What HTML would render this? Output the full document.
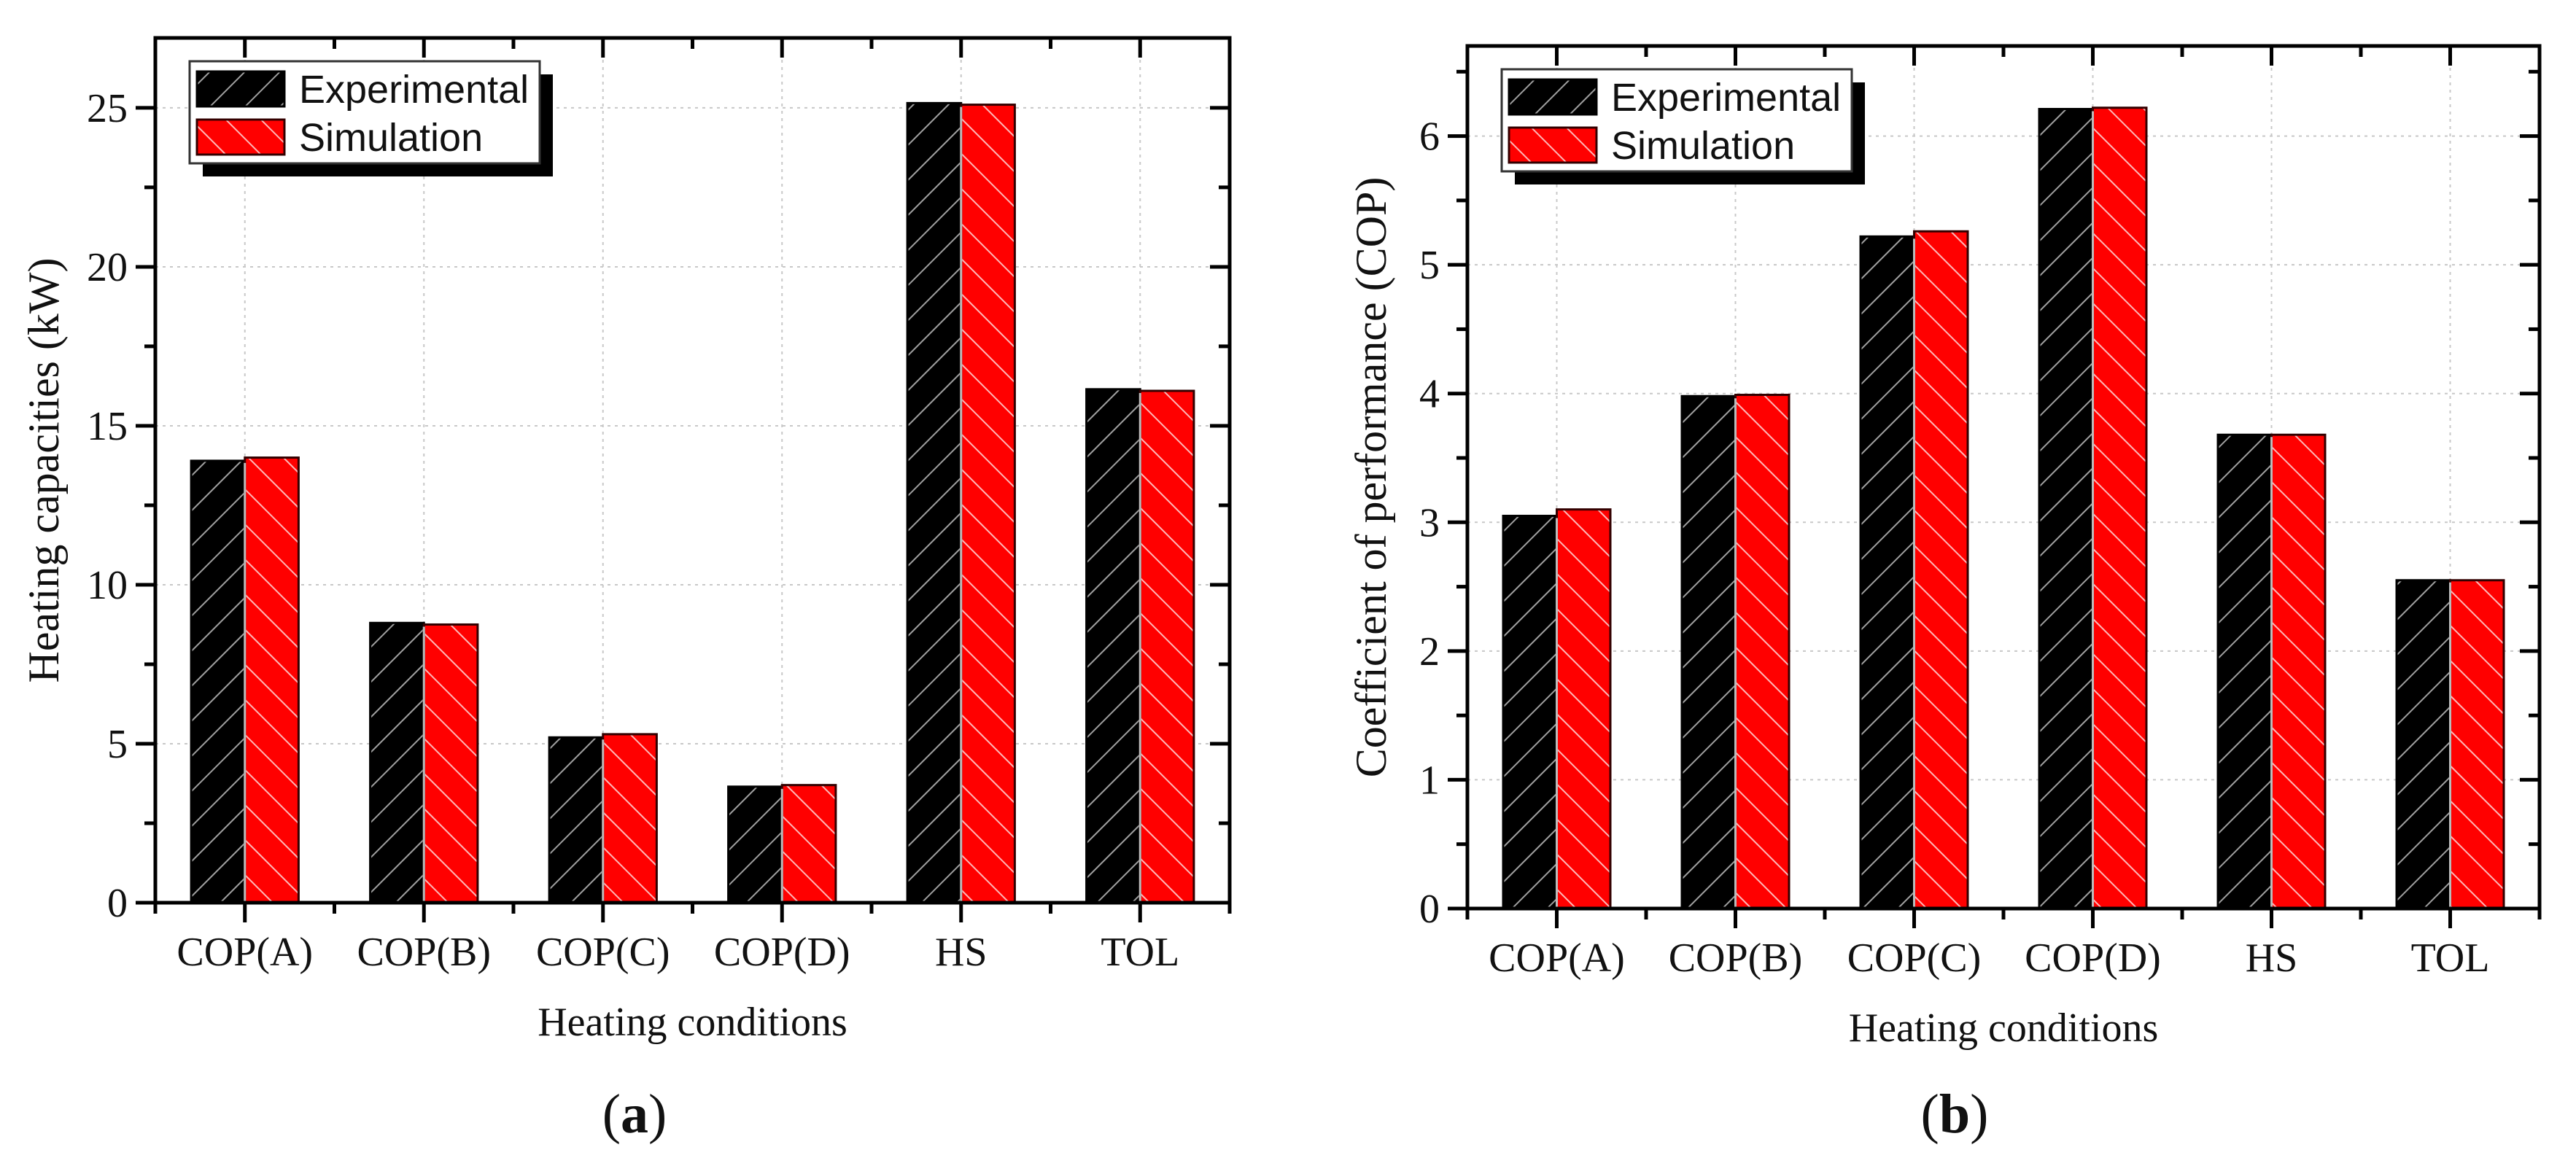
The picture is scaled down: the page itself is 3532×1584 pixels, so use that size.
<!DOCTYPE html>
<html><head><meta charset="utf-8">
<style>
html,body{margin:0;padding:0;background:#fff;}
svg{display:block;}
.tk{font-family:"Liberation Serif",serif;font-size:56px;fill:#111;}
.yt{font-family:"Liberation Serif",serif;font-size:60px;fill:#111;}
.lg{font-family:"Liberation Sans",sans-serif;font-size:54px;fill:#111;}
</style></head>
<body>
<svg id="root" width="3532" height="1584" viewBox="0 0 3532 1584" xmlns="http://www.w3.org/2000/svg">
<defs>
<pattern id="hatchBlack" patternUnits="userSpaceOnUse" width="34" height="34" patternTransform="rotate(45)">
<rect width="34" height="34" fill="#000"/><line x1="0" y1="0" x2="0" y2="34" stroke="#a0a0a0" stroke-width="4"/>
</pattern>
<pattern id="hatchRed" patternUnits="userSpaceOnUse" width="34" height="34" patternTransform="rotate(-45)">
<rect width="34" height="34" fill="#ff0000"/><line x1="0" y1="0" x2="0" y2="34" stroke="#ffb8b8" stroke-width="4"/>
</pattern>
</defs>
<g id="panelA"></g>
<g id="panelB"></g>
</svg>
<script>
const categories = ["COP(A)","COP(B)","COP(C)","COP(D)","HS","TOL"];
const seriesNames = ["Experimental","Simulation"];
const capExperimental = [13.9, 8.8, 5.2, 3.65, 25.15, 16.15];
const capSimulation = [14.0, 8.75, 5.3, 3.7, 25.1, 16.1];
const copExperimental = [3.05, 3.98, 5.22, 6.21, 3.68, 2.55];
const copSimulation = [3.1, 3.99, 5.26, 6.22, 3.68, 2.55];
const capTicks = [0, 5, 10, 15, 20, 25];
const copTicks = [0, 1, 2, 3, 4, 5, 6];

const NS = "http://www.w3.org/2000/svg";
function mk(tag, attrs, parent) {
  const e = document.createElementNS(NS, tag);
  for (const k in attrs) e.setAttribute(k, attrs[k]);
  parent.appendChild(e);
  return e;
}

function drawPanel(g, cfg) {
  const L = cfg.left, R = cfg.right, T = cfg.top, B = cfg.bottom;
  const n = categories.length;
  const band = (R - L) / n;
  const xCenter = i => L + band * (i + 0.5);
  const y = v => B - (v / cfg.ymax) * (B - T);

  cfg.ticks.forEach(t => {
    if (t === 0) return;
    const ln = mk("line", {x1: L, x2: R, y1: y(t), y2: y(t), stroke: "#c8c8c8", "stroke-width": 2, "stroke-dasharray": "4 6"}, g);
    
    
  });
  categories.forEach((c, i) => {
    const ln = mk("line", {x1: xCenter(i), x2: xCenter(i), y1: T, y2: B, stroke: "#c8c8c8", "stroke-width": 2, "stroke-dasharray": "4 6"}, g);
    
    
  });

  const bw = band * 0.3;
  const seriesData = [cfg.exp, cfg.sim];
  seriesData.forEach((vals, s) => {
    vals.forEach((v, i) => {
      const x0 = s === 0 ? xCenter(i) - bw : xCenter(i);
      const r = mk("rect", {x: x0, y: y(v), width: bw, height: B - y(v),
        fill: s === 0 ? "url(#hatchBlack)" : "url(#hatchRed)",
        stroke: s === 0 ? "#000" : "#300", "stroke-width": 3}, g);
      
      
    });
  });
  categories.forEach((c, i) => {
    mk("line", {x1: xCenter(i), x2: xCenter(i), y1: y(Math.min(cfg.exp[i], cfg.sim[i])) + 3, y2: B, stroke: "#bbb", "stroke-width": 3}, g);
  });

  const frame = mk("rect", {x: L, y: T, width: R - L, height: B - T, fill: "none", stroke: "#000", "stroke-width": 5}, g);
  
  

  const step = cfg.ticks[1] - cfg.ticks[0];
  for (let v = 0; v <= cfg.ymax + 1e-9; v += step / 2) {
    const major = Math.abs(v / step - Math.round(v / step)) < 1e-6;
    const len = major ? 27 : 15;
    mk("line", {x1: L - len, x2: L, y1: y(v), y2: y(v), stroke: "#000", "stroke-width": 5}, g);
    mk("line", {x1: R - len, x2: R, y1: y(v), y2: y(v), stroke: "#000", "stroke-width": 5}, g);
  }
  cfg.ticks.forEach(t => {
    const tx = mk("text", {x: L - 38, y: y(t) + 19, "text-anchor": "end", class: "tk"}, g);
    tx.textContent = t;
    
    
  });
  for (let k = 0; k <= 2 * n; k++) {
    const xx = L + band * k / 2;
    const major = k % 2 === 1;
    const len = major ? 27 : 15;
    mk("line", {x1: xx, x2: xx, y1: B, y2: B + len, stroke: "#000", "stroke-width": 5}, g);
    mk("line", {x1: xx, x2: xx, y1: T, y2: T + len, stroke: "#000", "stroke-width": 5}, g);
  }
  categories.forEach((c, i) => {
    const tx = mk("text", {x: xCenter(i), y: B + 86, "text-anchor": "middle", class: "tk"}, g);
    tx.textContent = c;
    
    
  });

  const xt = mk("text", {x: (L + R) / 2, y: B + 182, "text-anchor": "middle", class: "tk"}, g);
  xt.textContent = "Heating conditions";
  
  
  const yt = mk("text", {x: 0, y: 0, "text-anchor": "middle", class: "yt", transform: "translate(" + cfg.ytx + "," + ((T + B) / 2) + ") rotate(-90)"}, g);
  yt.textContent = cfg.ytitle;
  
  

  const lx = L + 47, ly = T + 32, lw = 480, lh = 140;
  mk("rect", {x: lx + 18, y: ly + 18, width: lw, height: lh, fill: "#000"}, g);
  const lb = mk("rect", {x: lx, y: ly, width: lw, height: lh, fill: "#fff", stroke: "#333", "stroke-width": 3}, g);
  
  
  seriesNames.forEach((nm, s) => {
    const sy = ly + 14 + s * 66;
    const sw = mk("rect", {x: lx + 10, y: sy, width: 120, height: 48, fill: s === 0 ? "url(#hatchBlack)" : "url(#hatchRed)", stroke: s === 0 ? "#000" : "#300", "stroke-width": 3}, g);
    
    
    const t = mk("text", {x: lx + 150, y: sy + 43, class: "lg"}, g);
    t.textContent = nm;
    
    
  });

  const pl = mk("text", {x: cfg.labx, y: 1553, "text-anchor": "middle", style: "font-family:'Liberation Serif',serif;font-size:76px;fill:#111"}, g);
  pl.innerHTML = "(<tspan font-weight='bold'>" + cfg.lab + "</tspan>)";
  
  
}

drawPanel(document.getElementById("panelA"), {
  left: 213, right: 1686, top: 52, bottom: 1238, ymax: 27.2,
  ticks: capTicks, exp: capExperimental, sim: capSimulation,
  ytitle: "Heating capacities (kW)", ytx: 80, labx: 870, lab: "a"
});
drawPanel(document.getElementById("panelB"), {
  left: 2012, right: 3482, top: 63, bottom: 1246, ymax: 6.70,
  ticks: copTicks, exp: copExperimental, sim: copSimulation,
  ytitle: "Coefficient of performance (COP)", ytx: 1900, labx: 2680, lab: "b"
});
</script>
</body></html>
